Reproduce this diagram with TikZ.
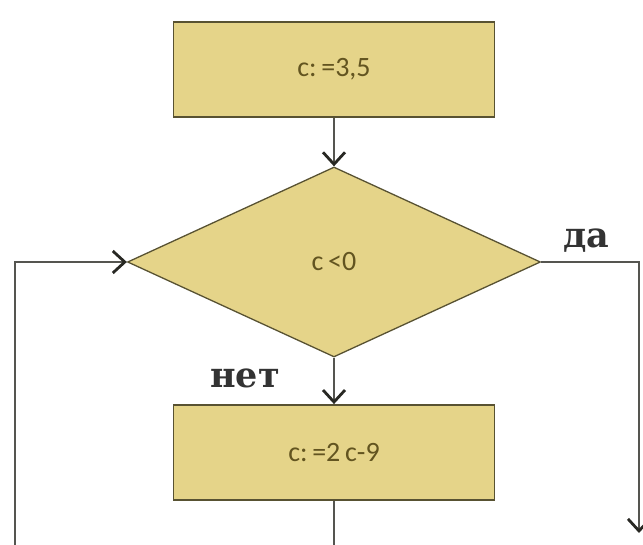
\documentclass[tikz,border=0pt]{standalone}
\usepackage{fontspec}
\setmainfont{DejaVu Serif}
\newfontfamily\boxfont{Carlito}
\usetikzlibrary{shapes.geometric,arrows.meta}
\definecolor{khaki}{RGB}{229,212,137}
\definecolor{edge}{RGB}{88,82,50}
\definecolor{txt}{RGB}{98,84,32}
\definecolor{conn}{RGB}{85,85,80}
\definecolor{tip}{RGB}{40,40,35}
\tikzset{
  procbox/.style={draw=edge, line width=1.8pt, fill=khaki, minimum width=321pt, minimum height=95pt, inner sep=0pt, font=\boxfont\fontsize{28}{28}\selectfont, text=txt},
  decbox/.style={draw=edge, line width=1.3pt, fill=khaki, diamond, aspect=2.17, minimum width=413pt, minimum height=190pt, inner sep=0pt, font=\boxfont\fontsize{28}{28}\selectfont, text=txt},
  conn/.style={draw=conn, line width=2pt},
  arr/.style={conn, -{Straight Barb[length=12pt,width=22pt,line width=2.8pt,color=tip]}},
  lbl/.style={font=\bfseries\fontsize{35}{35}\selectfont, text=black!80}
}
\begin{document}
\begin{tikzpicture}[x=1pt,y=-1pt]
\useasboundingbox (0,0) rectangle (643,545);
\node[procbox] (b1) at (334,69.5) {c:\,=3,5};
\node[decbox] (d) at (334,262) {c\,<0};
\node[procbox] (b2) at (334,452.5) {c:\,=2\,c-9};
\coordinate (b2out) at (334,545);
\coordinate (loopbot) at (15,545);
\coordinate (loopcorner) at (15,262);
\coordinate (yescorner) at (639,262);
\coordinate (yesend) at (639,533);
\draw[arr] (b1.south) -- (d.north);
\draw[arr] (d.south) -- (b2.north);
\draw[conn] (b2.south) -- (b2out);
\draw[arr] (loopbot) -- (loopcorner) -- (d.west);
\draw[arr] (d.east) -- (yescorner) -- (yesend);
\node[lbl, anchor=base] (yes) at (586,248) {да};
\node[lbl, anchor=base] (no) at (245,388) {нет};
\end{tikzpicture}
\end{document}
